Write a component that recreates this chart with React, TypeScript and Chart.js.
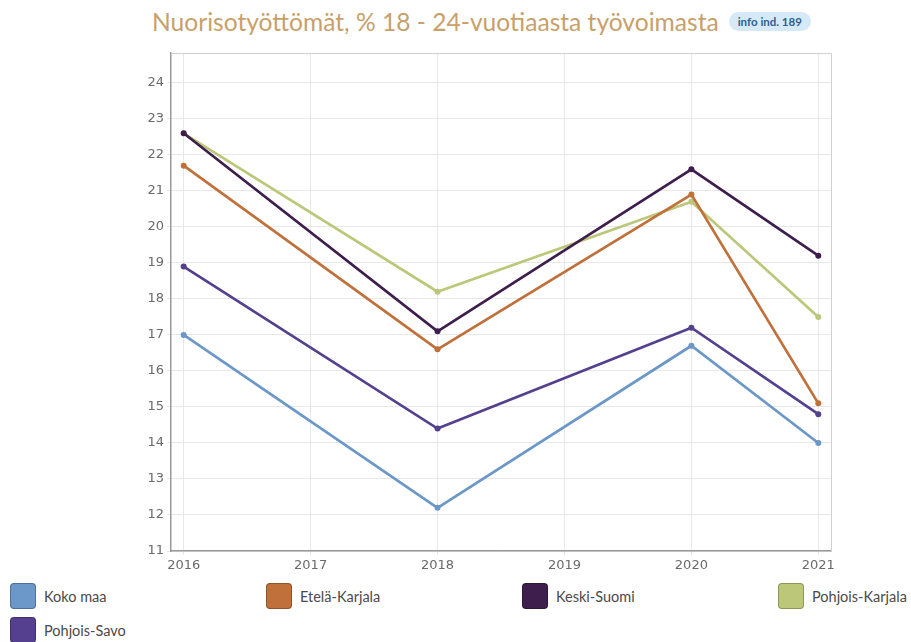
import React, { useEffect, useRef } from "react";
import { Chart, registerables } from "chart.js";

Chart.register(...registerables);

const years = [2016, 2018, 2020, 2021];
const xTickValues = [2016, 2017, 2018, 2019, 2020, 2021];
const yTickValues = [11, 12, 13, 14, 15, 16, 17, 18, 19, 20, 21, 22, 23, 24];

const seriesNames = ["Koko maa", "Etelä-Karjala", "Keski-Suomi", "Pohjois-Karjala", "Pohjois-Savo"];
const kokoMaa = [17.0, 12.2, 16.7, 14.0];
const etelaKarjala = [21.7, 16.6, 20.9, 15.1];
const keskiSuomi = [22.6, 17.1, 21.6, 19.2];
const pohjoisKarjala = [22.6, 18.2, 20.7, 17.5];
const pohjoisSavo = [18.9, 14.4, 17.2, 14.8];
const seriesValues = [kokoMaa, etelaKarjala, keskiSuomi, pohjoisKarjala, pohjoisSavo];
const seriesColors = ["#6b97c9", "#c0703a", "#3e1e4c", "#bcc779", "#54408e"];

const titleText = "Nuorisotyöttömät, % 18 - 24-vuotiaasta työvoimasta";
const badgeText = "info ind. 189";

const boxPlugin = {
  id: "boxPlugin",
  afterDraw(chart: any) {
    const { ctx, chartArea } = chart;
    ctx.save();
    ctx.strokeStyle = "#d0d0d0";
    ctx.lineWidth = 1;
    ctx.beginPath();
    ctx.moveTo(chartArea.left, chartArea.top + 0.5);
    ctx.lineTo(chartArea.right + 0.5, chartArea.top + 0.5);
    ctx.lineTo(chartArea.right + 0.5, chartArea.bottom);
    ctx.stroke();
    ctx.restore();
  },
};

export default function App() {
  const ref = useRef<HTMLCanvasElement>(null);

  useEffect(() => {
    if (!ref.current) return;
    const chart = new Chart(ref.current, {
      type: "line",
      data: {
        datasets: seriesNames.map((name, i) => ({
          label: name,
          data: years.map((x, j) => ({ x, y: seriesValues[i][j] })),
          borderColor: seriesColors[i],
          backgroundColor: seriesColors[i],
          borderWidth: 2.7,
          pointRadius: 3,
          pointBorderWidth: 0,
          tension: 0,
          fill: false,
        })),
      },
      options: {
        animation: false,
        responsive: false,
        devicePixelRatio: 1,
        layout: { padding: { left: 0, right: 80, top: 13, bottom: 0 } },
        plugins: {
          legend: { display: false },
          tooltip: { enabled: false },
        },
        scales: {
          x: {
            type: "linear",
            min: 2015.9,
            max: 2021.1,
            afterFit: (s: any) => {
              s.height = 29;
            },
            afterBuildTicks: (s: any) => {
              s.ticks = xTickValues.map((v) => ({ value: v }));
            },
            ticks: {
              callback: (v: any) => String(v),
              color: "#6a6a6a",
              font: { family: "DejaVu Sans", size: 13 },
              padding: 3,
              maxRotation: 0,
            },
            grid: { color: "#e8e8e8", tickLength: 4, tickColor: "#e8e8e8" },
            border: { color: "#999", width: 1.5 },
          },
          y: {
            type: "linear",
            min: 11,
            max: 24.83,
            afterFit: (s: any) => {
              s.width = 171;
            },
            afterBuildTicks: (s: any) => {
              s.ticks = yTickValues.map((v) => ({ value: v }));
            },
            ticks: {
              callback: (v: any) => String(v),
              color: "#6a6a6a",
              font: { family: "DejaVu Sans", size: 13 },
              padding: 3,
            },
            grid: { color: "#e8e8e8", tickLength: 4, tickColor: "#e8e8e8" },
            border: { color: "#999", width: 1.5 },
          },
        },
      },
      plugins: [boxPlugin],
    });
    return () => chart.destroy();
  }, []);

  return (
    <div
      style={{
        position: "absolute",
        left: 0,
        top: 0,
        width: 911,
        height: 642,
        background: "#fff",
        overflow: "hidden",
      }}
    >
      <div
        style={{
          position: "absolute",
          left: 152,
          top: 7,
          whiteSpace: "nowrap",
          display: "flex",
          alignItems: "center",
        }}
      >
        <span style={{ fontFamily: "Lato", fontSize: 24.6, color: "#c8a06a" }}>{titleText}</span>
        <span
          style={{
            marginLeft: 10,
            background: "#d6e9f7",
            color: "#2d5f8e",
            fontFamily: "Lato",
            fontWeight: 700,
            fontSize: 11.5,
            borderRadius: 10,
            padding: "3px 9px",
          }}
        >
          {badgeText}
        </span>
      </div>
      <canvas
        ref={ref}
        width={911}
        height={540}
        style={{ position: "absolute", left: 0, top: 40, width: 911, height: 540 }}
      />
      {seriesNames.map((name, i) => (
        <div
          key={name}
          style={{
            position: "absolute",
            left: 10 + (i % 4) * 256,
            top: 583 + Math.floor(i / 4) * 34,
            display: "flex",
            alignItems: "center",
            whiteSpace: "nowrap",
          }}
        >
          <div
            style={{
              width: 24,
              height: 24,
              background: seriesColors[i],
              border: "1px solid rgba(0,0,0,0.25)",
              borderRadius: 4,
            }}
          />
          <span
            style={{
              marginLeft: 8,
              fontFamily: "Lato",
              fontSize: 14.5,
              color: "#4a4a4a",
            }}
          >
            {name}
          </span>
        </div>
      ))}
    </div>
  );
}
